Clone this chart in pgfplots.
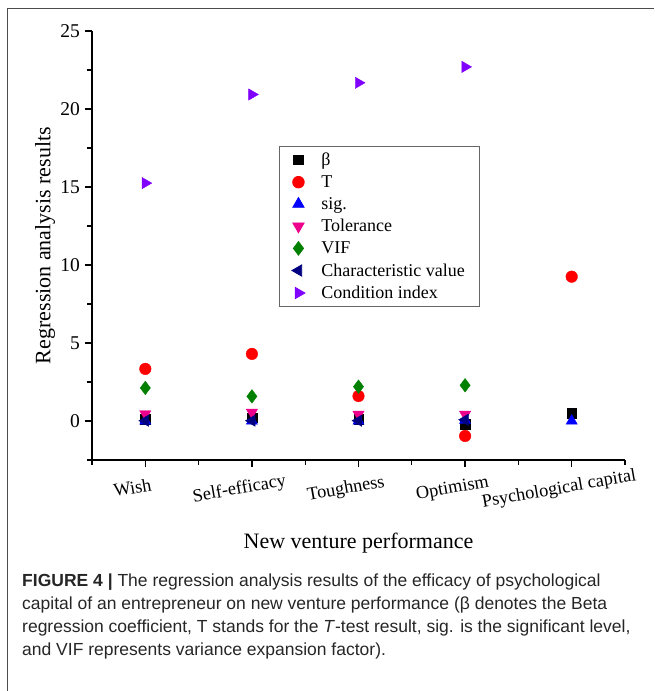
\documentclass[border=0pt]{standalone}
\usepackage{pgfplots}
\pgfplotsset{compat=1.18}
\usepackage{fontspec}
\setmainfont{Liberation Serif}
\newfontfamily\capfont{Liberation Sans}
\definecolor{cviolet}{RGB}{128,0,255}
\definecolor{cnavy}{RGB}{0,0,128}
\definecolor{cgreen}{RGB}{0,128,0}
\begin{document}
\begin{tikzpicture}[x=1pt,y=1pt]
\useasboundingbox (0,0) rectangle (654,691);
\draw[line width=1.5pt, color=black!70] (7.5,0) -- (7.5,682.5) -- (654,682.5);
\begin{axis}[
  at={(92pt,231pt)}, anchor=south west,
  scale only axis, width=533pt, height=429pt,
  xmin=0.5, xmax=5.5, ymin=-2.5, ymax=25,
  axis lines=left,
  axis line style={-, line width=1.6pt},
  xtick={1,2,3,4,5},
  minor xtick={0.5,1.5,2.5,3.5,4.5,5.5},
  xticklabels={Wish,Self-efficacy,Toughness,Optimism,Psychological capital},
  ytick={0,5,10,15,20,25},
  minor ytick={-2.5,2.5,7.5,12.5,17.5,22.5},
  tick align=outside,
  major tick length=7pt, minor tick length=4.5pt,
  tick style={line width=1.3pt, black},
  /pgf/number format/assume math mode=true,
  yticklabel style={font=\fontsize{19.5}{19.5}\selectfont, xshift=-1.5pt},
  xticklabel style={font=\fontsize{18.3}{18.3}\selectfont, inner sep=0pt, xshift=-14pt, yshift=-14pt, rotate=10, anchor=north},
  xlabel={New venture performance},
  ylabel={Regression analysis results},
  label style={font=\fontsize{22}{22}\selectfont},
  xlabel style={at={(axis description cs:0.5,-0.193)}, anchor=center},
  ylabel style={at={(axis description cs:-0.088,0.5)}, anchor=center, rotate=0},
  legend cell align=left,
  legend style={at={(axis description cs:0.35,0.732)}, anchor=north west,
    draw=black!60, line width=0.8pt, font=\fontsize{18}{18}\selectfont,
    row sep=5.5pt, inner xsep=13pt, inner ysep=5pt,
    nodes={inner sep=1.5pt, font=\fontsize{18}{18}\selectfont},
    /tikz/every odd column/.append style={column sep=15pt}},
]
\addplot[only marks, mark=square*, mark size=4.8pt, black] coordinates {(1,0.1)(2,0.2)(3,0.1)(4,-0.2)(5,0.5)};
\addlegendentry{β}
\addplot[only marks, mark=*, mark size=5.8pt, red] coordinates {(1,3.34)(2,4.3)(3,1.6)(4,-0.96)(5,9.25)};
\addlegendentry{T}
\addplot[only marks, mark=triangle*, mark size=6.5pt, blue] coordinates {(1,0)(2,0)(3,0)(4,0.05)(5,0)};
\addlegendentry{sig.}
\addplot[only marks, mark=triangle*, mark size=6.5pt, magenta, mark options={rotate=180}] coordinates {(1,0.45)(2,0.55)(3,0.42)(4,0.42)};
\addlegendentry{Tolerance}
\addplot[only marks, mark=diamond*, mark size=6.8pt, cgreen] coordinates {(1,2.12)(2,1.58)(3,2.2)(4,2.29)};
\addlegendentry{VIF}
\addplot[only marks, mark=triangle*, mark size=6.5pt, cnavy, mark options={rotate=90}] coordinates {(1,0.02)(2,0.02)(3,0.02)(4,0.08)};
\addlegendentry{Characteristic value}
\addplot[only marks, mark=triangle*, mark size=6.5pt, cviolet, mark options={rotate=-90}] coordinates {(1,15.25)(2,20.93)(3,21.68)(4,22.7)};
\addlegendentry{Condition index}
\end{axis}
\begin{scope}[every node/.style={anchor=base west, inner sep=0pt, font=\capfont\fontsize{17.5}{17.5}\selectfont, color=black!85}]
\node at (22,104.5) {\textbf{FIGURE 4 |} The regression analysis results of the efficacy of psychological};
\node at (22,81.5) {capital of an entrepreneur on new venture performance (β denotes the Beta};
\node at (22,58.5) {regression coefficient, T stands for the \textit{T}-test result, sig. is the significant level,};
\node at (22,35.5) {and VIF represents variance expansion factor).};
\end{scope}
\end{tikzpicture}
\end{document}
